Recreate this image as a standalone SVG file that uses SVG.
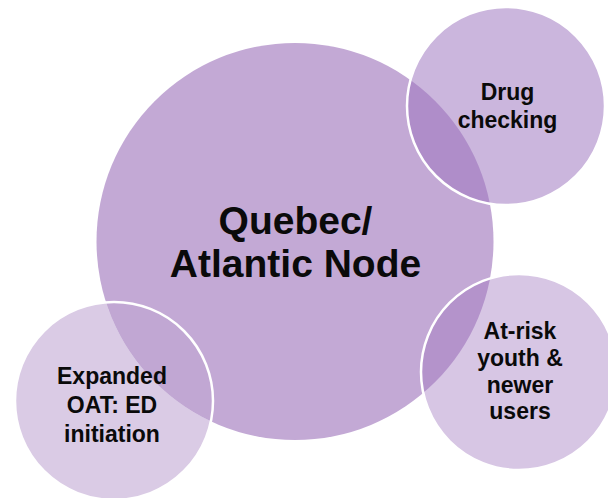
<svg xmlns="http://www.w3.org/2000/svg" width="608" height="498" viewBox="0 0 608 498">
  <style>
    .big { fill: #C3A9D5; }
    .small { fill: #9D75BE; stroke: #FFFFFF; stroke-width: 2.5; }
    .ring { fill: none; stroke: #FFFFFF; stroke-width: 2.5; }
    .lbl { font-family: "Liberation Sans", Arial, sans-serif; font-weight: bold; fill: #0A0A0A; text-anchor: middle; }
    .main { font-size: 39px; }
    .sub { font-size: 23px; }
  </style>
  <defs>
    <mask id="outsideBig">
      <rect width="608" height="498" fill="#FFFFFF"/>
      <circle cx="295" cy="241.5" r="198.5" fill="#000000"/>
    </mask>
  </defs>
  <rect width="608" height="498" fill="#FFFFFF"/>
  <g id="node-main">
    <circle class="big" cx="295" cy="241.5" r="198.5"/>
    <text class="lbl main" x="295.5" y="234">Quebec/</text>
    <text class="lbl main" x="295.5" y="277">Atlantic Node</text>
  </g>
  <g id="node-drug">
    <circle class="small" cx="506" cy="106" r="99" fill-opacity="0.53"/>
    <text class="lbl sub" x="507.5" y="100">Drug</text>
    <text class="lbl sub" x="507.5" y="128">checking</text>
  </g>
  <g id="node-youth">
    <circle class="small" cx="519" cy="372" r="98" fill-opacity="0.41"/>
    <text class="lbl sub" x="520" y="339">At-risk</text>
    <text class="lbl sub" x="520" y="366">youth &amp;</text>
    <text class="lbl sub" x="520" y="393">newer</text>
    <text class="lbl sub" x="520" y="419">users</text>
  </g>
  <g id="node-oat">
    <circle cx="114" cy="401" r="99" fill="#9D75BE" fill-opacity="0.35" mask="url(#outsideBig)"/>
    <circle cx="114" cy="401" r="99" fill="#9D75BE" fill-opacity="0.04"/>
    <circle class="ring" cx="114" cy="401" r="99"/>
    <text class="lbl sub" x="112" y="384">Expanded</text>
    <text class="lbl sub" x="112" y="413">OAT: ED</text>
    <text class="lbl sub" x="112" y="442">initiation</text>
  </g>
  <g id="connectors"/>
</svg>
